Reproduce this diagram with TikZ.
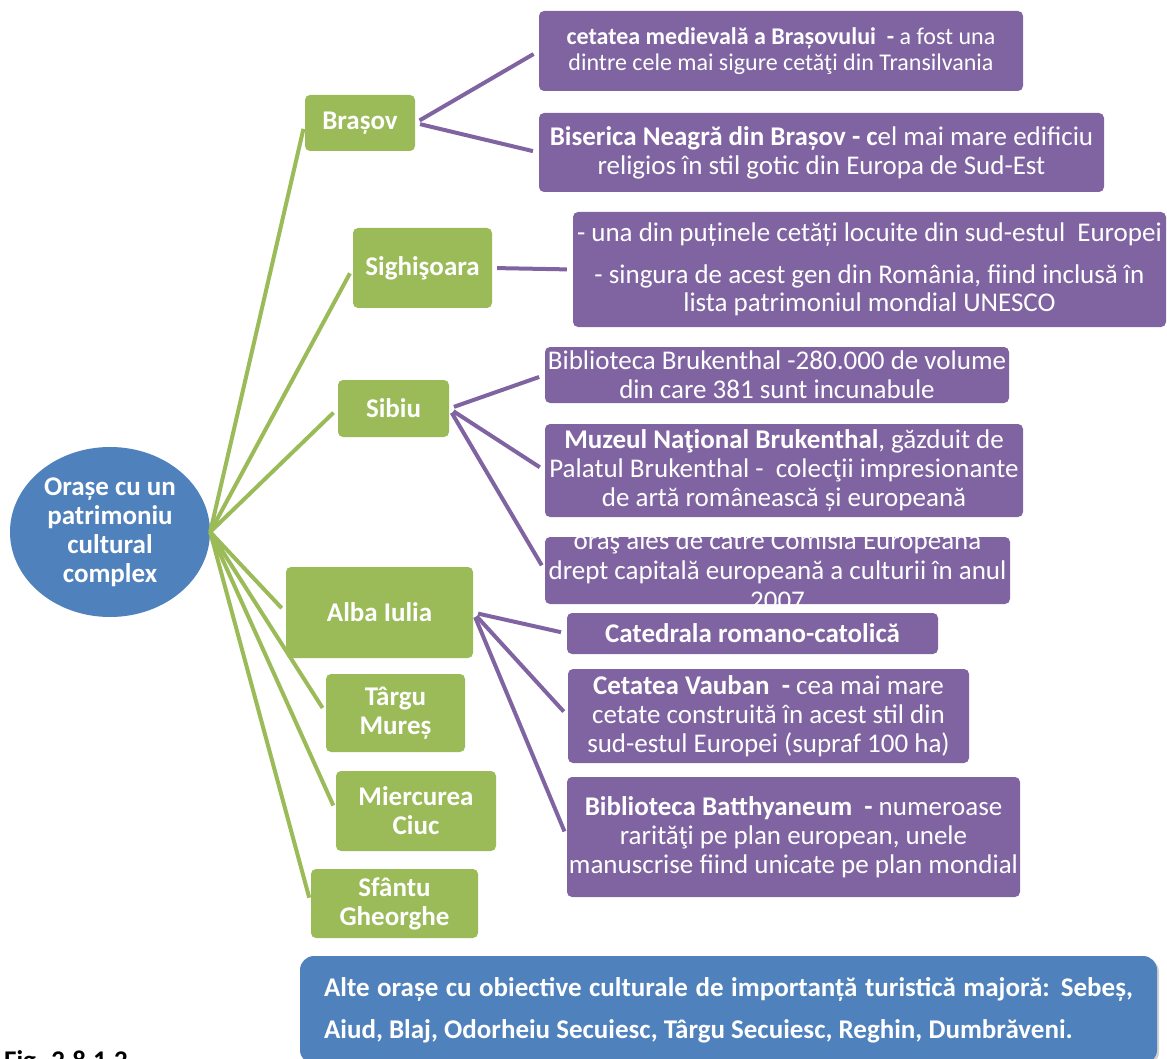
\documentclass[tikz,border=0pt]{standalone}
\usepackage{fontspec}
\setmainfont{Carlito}
\usetikzlibrary{shapes.geometric,shadows}
\definecolor{grn}{HTML}{9BBB59}
\definecolor{pur}{HTML}{8064A2}
\definecolor{blu}{HTML}{4F81BD}
\tikzset{
  gbox/.style={fill=grn, rounded corners=5pt, text=white, align=center, inner sep=0pt,
    font=\fontsize{27}{29}\selectfont\bfseries},
  pbox/.style={fill=pur, rounded corners=5pt, text=white, align=center, inner sep=0pt,
    font=\fontsize{27}{29}\selectfont},
  glink/.style={draw=grn, line width=4pt, shorten >=6pt},
  plink/.style={draw=pur, line width=4pt, shorten <=5pt, shorten >=6pt},
}
\begin{document}
\begin{tikzpicture}[x=1pt,y=-1pt]
\useasboundingbox (0,0) rectangle (1167,1059);

% central ellipse
\node[ellipse, fill=blu, text=white, minimum width=200, minimum height=170, inner sep=0pt,
  align=center, font=\fontsize{27}{29}\selectfont\bfseries] (hub) at (110,532)
  {Orașe cu un\\patrimoniu\\cultural\\complex};

% green city boxes
\node[gbox, minimum width=110, minimum height=56] (bv) at (360,123) {Brașov};
\node[gbox, minimum width=139, minimum height=80] (sg) at (422.5,268) {Sighişoara};
\node[gbox, minimum width=111, minimum height=57] (sb) at (393.5,408.5) {Sibiu};
\node[gbox, minimum width=187, minimum height=91] (ab) at (379.5,612.5) {Alba Iulia};
\node[gbox, minimum width=139, minimum height=78] (tm) at (395.5,713) {Târgu\\Mureș};
\node[gbox, minimum width=160, minimum height=80] (mc) at (416,811) {Miercurea\\Ciuc};
\node[gbox, minimum width=167, minimum height=69] (sf) at (394.5,903.5) {Sfântu\\Gheorghe};

% purple detail boxes
\node[pbox, minimum width=484, minimum height=80, font=\fontsize{24}{26}\selectfont] (p1) at (781,51)
  {\textbf{cetatea medievală a Brașovului\ \ -} a fost una\\dintre cele mai sigure cetăţi din Transilvania};
\node[pbox, minimum width=565, minimum height=79] (p2) at (821.5,152.5)
  {\textbf{Biserica Neagră din Brașov - c}el mai mare edificiu\\religios în stil gotic din Europa de Sud-Est};
\node[pbox, minimum width=593, minimum height=115, font=\fontsize{27}{28}\selectfont] (p3) at (869.5,269.5)
  {- una din puținele cetăți locuite din sud-estul\ \ Europei\\[14pt]- singura de acest gen din România, fiind inclusă în\\lista patrimoniul mondial UNESCO};
\node[pbox, minimum width=464, minimum height=56] (p4) at (777,375)
  {Biblioteca Brukenthal -280.000 de volume\\din care 381 sunt incunabule};
\node[pbox, minimum width=478, minimum height=93] (p5) at (784,470.5)
  {\textbf{Muzeul Naţional Brukenthal}, găzduit de\\Palatul Brukenthal -\ \ colecţii impresionante\\de artă românească și europeană};
\node[pbox, minimum width=465, minimum height=67] (p6) at (777.5,570.5) {};
\node[text=white, align=center, inner sep=0pt, font=\fontsize{27}{30}\selectfont] (p6t) at (p6.center)
  {oraş ales de către Comisia Europeană\\drept capitală europeană a culturii în anul\\2007};
\node[pbox, minimum width=371, minimum height=41, font=\fontsize{27}{29}\selectfont\bfseries] (p7) at (752.5,633.5)
  {Catedrala romano-catolică};
\node[pbox, minimum width=401, minimum height=94] (p8) at (768.5,716)
  {\textbf{Cetatea Vauban\ \ -} cea mai mare\\cetate construită în acest stil din\\sud-estul Europei (supraf 100 ha)};
\node[pbox, minimum width=453, minimum height=120] (p9) at (793.5,837)
  {\textbf{Biblioteca Batthyaneum\ \ -} numeroase\\rarităţi pe plan european, unele\\manuscrise fiind unicate pe plan mondial};

% green connectors
\foreach \t in {bv,sg,sb,ab,tm,mc,sf}
  \draw[glink] (hub.east) -- (\t.west);

% purple connectors
\draw[plink] (bv.east) -- (p1.west);
\draw[plink] (bv.east) -- (p2.west);
\draw[plink] (sg.east) -- (p3.west);
\draw[plink] (sb.east) -- (p4.west);
\draw[plink] (sb.east) -- (p5.west);
\draw[plink] (sb.east) -- (p6.west);
\draw[plink] (ab.east) -- (p7.west);
\draw[plink] (ab.east) -- (p8.west);
\draw[plink] (ab.east) -- (p9.west);

% bottom box
\node[fill=blu, rounded corners=14pt, minimum width=857, minimum height=108, inner sep=0pt,
  drop shadow={shadow xshift=2pt, shadow yshift=-2pt, opacity=0.35},
  text=white, align=left, font=\fontsize{27}{42}\selectfont\bfseries] (alte) at (728.5,1010)
  {\makebox[809pt][s]{Alte orașe cu obiective culturale de importanță turistică majoră: Sebeș,}\\
   Aiud, Blaj, Odorheiu Secuiesc, Târgu Secuiesc, Reghin, Dumbrăveni.};

\node[anchor=north west, inner sep=0pt, font=\fontsize{27}{29}\selectfont\bfseries] (fig) at (4,1050) {Fig. 2.8.1.2};
\end{tikzpicture}
\end{document}
